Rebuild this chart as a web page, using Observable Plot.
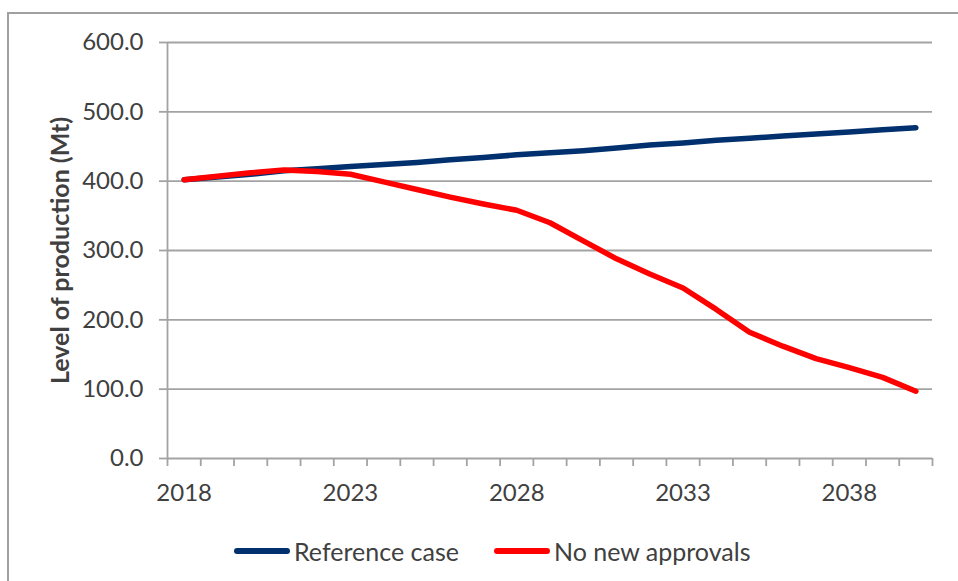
<!DOCTYPE html>
<html>
<head>
<meta charset="utf-8">
<script src="https://cdn.jsdelivr.net/npm/d3@7"></script>
<script src="https://cdn.jsdelivr.net/npm/@observablehq/plot@0.6"></script>
<style>
  html, body { margin: 0; padding: 0; background: #fff; }
  body { width: 958px; height: 581px; overflow: hidden; position: relative; font-family: Lato, "Open Sans", sans-serif; color: #404040; }
  #frame { position: absolute; left: 7px; top: 12px; width: 980px; height: 600px; border-left: 2px solid #a0a0a0; border-top: 2px solid #a0a0a0; pointer-events: none; }
  #legend { position: relative; height: 42px; font-size: 25px; color: #404040; }
  .item { position: absolute; top: 0; height: 42px; display: flex; align-items: center; }
  .sw { width: 56px; height: 5.5px; border-radius: 3px; margin-right: 4px; }
</style>
</head>
<body>
<div id="chart"></div>
<div id="legend"></div>
<div id="frame"></div>
<script>
const years = [2018, 2019, 2020, 2021, 2022, 2023, 2024, 2025, 2026, 2027, 2028, 2029, 2030, 2031, 2032, 2033, 2034, 2035, 2036, 2037, 2038, 2039, 2040];
const referenceCase = [402, 406, 410, 415, 418, 421, 424, 427, 431, 434, 438, 441, 444, 448, 452, 455, 459, 462, 465, 468, 471, 474, 477];
const noNewApprovals = [402, 407, 412, 416, 414, 410, 399, 388, 377, 367, 358, 340, 314, 288, 266, 246, 215, 182, 162, 144, 131, 117, 97];
const seriesNames = ["Reference case", "No new approvals"];
const seriesColors = ["#00306e", "#ff0000"];
const yTicks = [0, 100, 200, 300, 400, 500, 600];
const xLabelYears = [2018, 2023, 2028, 2033, 2038];
const yLabel = "Level of production (Mt)";

const data = [];
years.forEach((yr, i) => {
  data.push({year: yr, value: referenceCase[i], series: seriesNames[0]});
  data.push({year: yr, value: noNewApprovals[i], series: seriesNames[1]});
});
const first = years[0] - 0.5, last = years[years.length - 1] + 0.5;
const boundaries = years.map(y => y - 0.5).concat([last]);

const grid = "#a3a3a3";
const chart = Plot.plot({
  width: 958,
  height: 530,
  marginLeft: 167,
  marginRight: 26,
  marginTop: 42,
  marginBottom: 72,
  style: {fontFamily: "Lato, 'Open Sans', sans-serif", fontSize: "24px", color: "#404040", background: "#fff"},
  x: {domain: [first, last], axis: null},
  y: {domain: [0, 600], axis: null},
  color: {domain: seriesNames, range: seriesColors},
  marks: [
    Plot.ruleY(yTicks, {x1: first, x2: last, stroke: grid, strokeWidth: 1.8}),
    Plot.axisY(yTicks, {tickSize: 8, tickPadding: 16, tickFormat: d3.format(".1f"), stroke: grid, strokeWidth: 1.8, strokeOpacity: 1, fill: "#404040", fontSize: 24, label: null}),
    Plot.axisX(boundaries, {tickSize: 8, tickFormat: () => "", stroke: grid, strokeWidth: 1.8, strokeOpacity: 1, label: null}),
    Plot.axisX(xLabelYears, {tickSize: 0, tickPadding: 25, tickFormat: d3.format("d"), fill: "#404040", fontSize: 24, label: null}),
    Plot.ruleX([first], {y1: 0, y2: 600, stroke: grid, strokeWidth: 1.8}),
    Plot.line(data, {x: "year", y: "value", z: "series", stroke: "series", strokeWidth: 5.5, strokeLinecap: "round", strokeLinejoin: "round"}),
    Plot.text([yLabel], {frameAnchor: "left", dx: -107, rotate: -90, textAnchor: "middle", fontWeight: "bold", fontSize: 25, fill: "#404040"})
  ]
});
document.getElementById("chart").appendChild(chart);

const legend = document.getElementById("legend");
const lefts = [234, 494];
seriesNames.forEach((name, i) => {
  const item = document.createElement("div");
  item.className = "item";
  item.style.left = lefts[i] + "px";
  const sw = document.createElement("div");
  sw.className = "sw";
  sw.style.background = seriesColors[i];
  const t = document.createElement("span");
  t.textContent = name;
  item.appendChild(sw);
  item.appendChild(t);
  legend.appendChild(item);
});
</script>
</body>
</html>
